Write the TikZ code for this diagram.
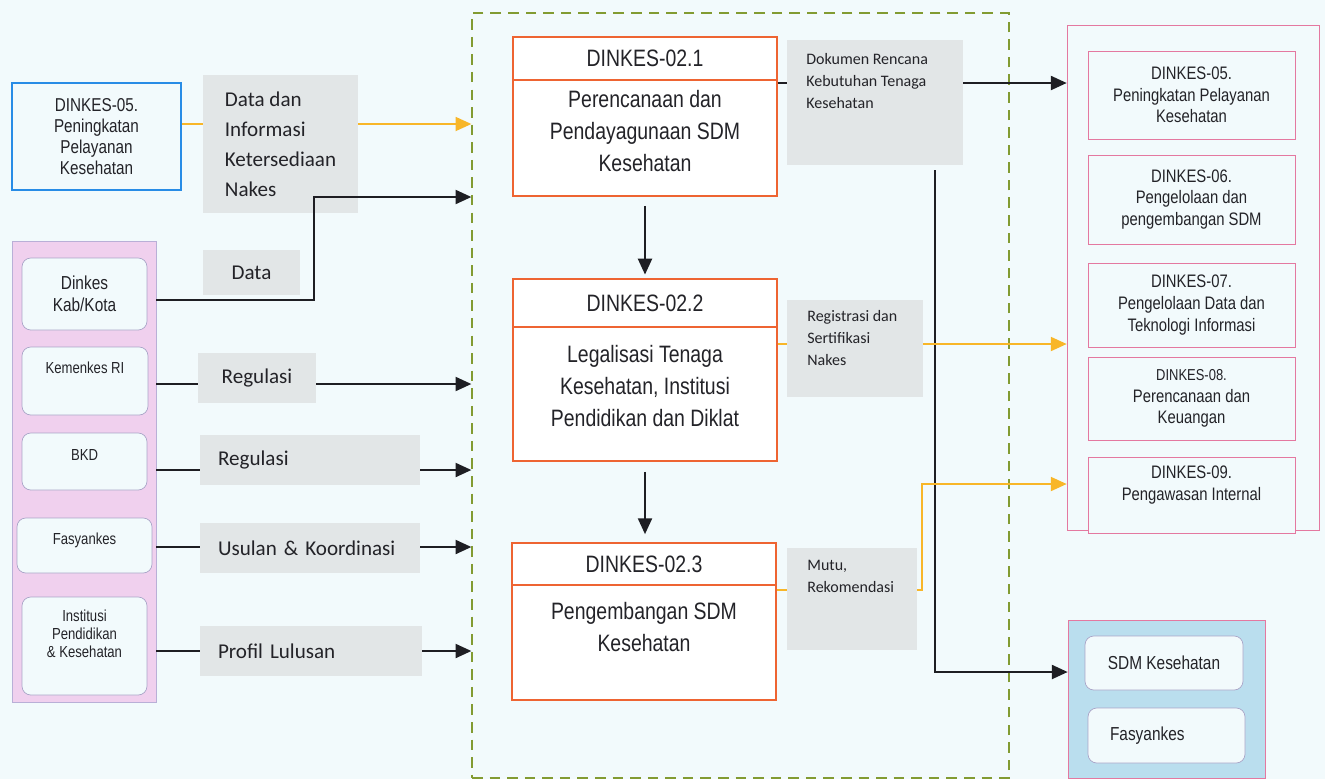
\documentclass[tikz,border=0pt]{standalone}
\usepackage{fontspec}
\usepackage{tikz}
\usepackage{xcolor}
\usetikzlibrary{arrows.meta}
\setmainfont{Liberation Sans}
\newfontfamily\narrowfont{Liberation Sans}[FakeStretch=0.82]
\newfontfamily\calfont{Carlito}

\definecolor{bgcol}{RGB}{242,250,252}
\definecolor{graycol}{RGB}{226,230,231}
\definecolor{txtcol}{RGB}{35,35,40}
\definecolor{linecol}{RGB}{30,30,35}
\definecolor{orangecol}{RGB}{238,100,50}
\definecolor{ambercol}{RGB}{248,182,40}
\definecolor{olivecol}{RGB}{130,155,50}
\definecolor{bluecol}{RGB}{40,140,230}
\definecolor{pinkfill}{RGB}{240,208,238}
\definecolor{panelline}{RGB}{185,175,215}
\definecolor{inline}{RGB}{170,165,200}
\definecolor{pinkline}{RGB}{228,120,160}
\definecolor{bluefill}{RGB}{186,222,238}

\begin{document}
\begin{tikzpicture}[x=0.02cm,y=-0.02cm,
    lbl/.style={fill=graycol,inner sep=0pt,text=txtcol,font=\calfont\fontsize{12}{17}\selectfont},
    smallcal/.style={inner sep=0pt,text=txtcol,align=left,font=\calfont\fontsize{9.1}{12.5}\selectfont},
    titlebox/.style={draw=orangecol,line width=1.1pt,fill=white,minimum width=5.28cm,text=txtcol,font=\narrowfont\fontsize{13.5}{18}\selectfont},
    bodybox/.style={draw=orangecol,line width=1.1pt,fill=white,minimum width=5.28cm},
    bodytxt/.style={align=center,text=txtcol,font=\narrowfont\fontsize{13.5}{18}\selectfont},
    inbox/.style={draw=inline,fill=bgcol,rounded corners=5pt,text=txtcol,align=center,font=\narrowfont\fontsize{9.1}{10.2}\selectfont},
    smalltxt/.style={text=txtcol,inner sep=0pt,font=\narrowfont\fontsize{9.1}{10.2}\selectfont},
    rbox/.style={draw=pinkline,fill=bgcol,minimum width=4.14cm,align=center,text=txtcol,font=\narrowfont\fontsize{10.3}{12.3}\selectfont},
    tbox/.style={draw=inline,fill=bgcol,rounded corners=5pt,text=txtcol,font=\narrowfont\fontsize{10.7}{12.5}\selectfont},
    line/.style={draw=linecol,line width=1.1pt},
    arr/.style={line,-{Triangle[length=9pt,width=8pt]}},
    yline/.style={draw=ambercol,line width=0.9pt},
    yarr/.style={yline,-{Triangle[length=9pt,width=8pt]}}]

    \useasboundingbox (0,0) rectangle (1325,779);
    \fill[bgcol] (0,0) rectangle (1325,779);

    % Line levels
    \coordinate (yinfo) at (0,124);
    \coordinate (ykab) at (0,300);
    \coordinate (dbend) at (314,197);
    \coordinate (ykem) at (0,384);
    \coordinate (ybkd) at (0,470);
    \coordinate (yfas) at (0,547);
    \coordinate (yinst) at (0,651);
    \coordinate (ydoc) at (0,83);
    \coordinate (yreg) at (0,344);
    \coordinate (ymut) at (0,590);
    \coordinate (y9) at (0,484);
    \coordinate (xm) at (922,0);
    \coordinate (v0) at (935,170);
    \coordinate (ysdm) at (0,672);

    % Input from DINKES-05
    \node[draw=bluecol,line width=1.1pt,fill=bgcol,minimum width=3.38cm,minimum height=2.14cm,align=center,text=txtcol,font=\narrowfont\fontsize{10.6}{11.9}\selectfont] (dk05in) at (96.5,136.5) {DINKES-05.\\Peningkatan\\Pelayanan\\Kesehatan};
    \node[lbl,minimum width=3.1cm,minimum height=2.76cm,align=left] (info) at (280.5,144) {Data dan\\Informasi\\Ketersediaan\\Nakes};

    % Sources
    \node[draw=panelline,fill=pinkfill,minimum width=2.88cm,minimum height=9.22cm] (srcpanel) at (84,471.5) {};
    \node[inbox,minimum width=2.5cm,minimum height=1.44cm,font=\narrowfont\fontsize{10.7}{12.5}\selectfont] (kab) at (84.5,294) {Dinkes\\Kab/Kota};
    \node[inbox,minimum width=2.52cm,minimum height=1.36cm] (kem) at (85,381) {};
    \node[smalltxt] (kem-t) at (85,368) {Kemenkes RI};
    \node[inbox,minimum width=2.5cm,minimum height=1.14cm] (bkd) at (84.5,461.5) {};
    \node[smalltxt] (bkd-t) at (84.5,455) {BKD};
    \node[inbox,minimum width=2.7cm,minimum height=1.1cm] (fas) at (84.5,545.5) {};
    \node[smalltxt] (fas-t) at (84.5,540) {Fasyankes};
    \node[inbox,minimum width=2.5cm,minimum height=1.96cm] (inst) at (84.5,646) {};
    \node[smalltxt,align=center] (inst-t) at (84.5,634) {Institusi\\Pendidikan\\\& Kesehatan};

    % Input labels
    \node[lbl,minimum width=1.94cm,minimum height=0.9cm] (data) at (251.5,272.5) {Data};
    \node[lbl,minimum width=2.36cm,minimum height=1cm] (reg1) at (257,378) {Regulasi};
    \node[lbl,text width=3.68cm,inner xsep=0.36cm,minimum height=1cm,align=left] (reg2) at (310,460) {Regulasi};
    \node[lbl,text width=3.68cm,inner xsep=0.36cm,minimum height=1cm,align=left] (usul) at (310,548) {Usulan \& Koordinasi};
    \node[lbl,text width=3.72cm,inner xsep=0.36cm,minimum height=1cm,align=left] (prof) at (311,651) {Profil Lulusan};

    % Process
    \node[draw=olivecol,line width=0.8pt,dash pattern=on 6pt off 4pt,minimum width=10.74cm,minimum height=15.3cm] (procbox) at (740.5,395.5) {};

    \node[bodybox,minimum height=2.32cm] (b1) at (645,138) {};
    \node[titlebox,minimum height=0.86cm] (b1t) at (645,58.5) {DINKES-02.1};
    \node[bodytxt] (b1-t) at (645,131) {Perencanaan dan\\Pendayagunaan SDM\\Kesehatan};

    \node[bodybox,minimum height=2.68cm] (b2) at (645,394) {};
    \node[titlebox,minimum height=0.96cm] (b2t) at (645,303) {DINKES-02.2};
    \node[bodytxt] (b2-t) at (645,386) {Legalisasi Tenaga\\Kesehatan, Institusi\\Pendidikan dan Diklat};

    \node[bodybox,minimum height=2.3cm] (b3) at (644,642.5) {};
    \node[titlebox,minimum height=0.84cm] (b3t) at (644,564) {DINKES-02.3};
    \node[bodytxt] (b3-t) at (644,627) {Pengembangan SDM\\Kesehatan};

    % Output labels
    \node[lbl,minimum width=3.52cm,minimum height=2.5cm] (doc) at (875,102.5) {};
    \node[smallcal,anchor=north west] (doc-t) at (806,53) {Dokumen Rencana\\Kebutuhan Tenaga\\Kesehatan};
    \node[lbl,minimum width=2.72cm,minimum height=1.94cm] (reg) at (855,348.5) {};
    \node[smallcal,anchor=north west] (reg-t) at (807,310) {Registrasi dan\\Sertifikasi\\Nakes};
    \node[lbl,minimum width=2.6cm,minimum height=2.04cm] (mutu) at (852,599) {};
    \node[smallcal,anchor=north west] (mutu-t) at (807,560) {Mutu,\\Rekomendasi};

    % Outputs
    \node[draw=pinkline,fill=bgcol,minimum width=5.04cm,minimum height=10.1cm] (outpanel) at (1193,277.5) {};
    \node[rbox,minimum height=1.76cm] (o5) at (1191.5,95) {DINKES-05.\\Peningkatan Pelayanan\\Kesehatan};
    \node[rbox,minimum height=1.78cm] (o6) at (1191.5,199.5) {DINKES-06.\\Pengelolaan dan\\pengembangan SDM};
    \node[rbox,minimum height=1.68cm] (o7) at (1191.5,305) {DINKES-07.\\Pengelolaan Data dan\\Teknologi Informasi};
    \node[rbox,minimum height=1.66cm] (o8) at (1191.5,398.5) {{\fontsize{9}{12}\selectfont DINKES-08.}\\Perencanaan dan\\Keuangan};
    \node[rbox,minimum height=1.52cm] (o9) at (1191.5,495) {};
    \node[bodytxt,inner sep=0pt,font=\narrowfont\fontsize{10.3}{12.3}\selectfont] (o9-t) at (1191.5,485) {DINKES-09.\\Pengawasan Internal};

    \node[draw=pinkline,fill=bluefill,minimum width=3.94cm,minimum height=3.16cm] (tgtpanel) at (1166.5,699) {};
    \node[tbox,minimum width=3.16cm,minimum height=1.08cm] (sdm) at (1164,663) {SDM Kesehatan};
    \node[tbox,text width=2.26cm,inner xsep=0.44cm,minimum height=1.1cm,align=left] (fasy) at (1166.5,735.5) {Fasyankes};

    % Inputs to process
    \draw[yline] (dk05in.east |- yinfo) -- (info.west |- yinfo);
    \draw[yarr] (info.east |- yinfo) -- (procbox.west |- yinfo);
    \draw[arr] (srcpanel.east |- ykab) -| (dbend) -- (procbox.west |- dbend);
    \draw[line] (srcpanel.east |- ykem) -- (reg1.west |- ykem);
    \draw[arr] (reg1.east |- ykem) -- (procbox.west |- ykem);
    \draw[line] (srcpanel.east |- ybkd) -- (reg2.west |- ybkd);
    \draw[arr] (reg2.east |- ybkd) -- (procbox.west |- ybkd);
    \draw[line] (srcpanel.east |- yfas) -- (usul.west |- yfas);
    \draw[arr] (usul.east |- yfas) -- (procbox.west |- yfas);
    \draw[line] (srcpanel.east |- yinst) -- (prof.west |- yinst);
    \draw[arr] (prof.east |- yinst) -- (procbox.west |- yinst);

    % Inside process
    \draw[arr,shorten <=5pt,shorten >=2pt] (b1.south) -- (b2t.north);
    \draw[arr,shorten <=5.7pt,shorten >=4.5pt] (b2.south) -- (b2.south |- b3t.north);

    % Process to outputs
    \draw[line] (b1.east |- ydoc) -- (doc.west |- ydoc);
    \draw[arr] (doc.east |- ydoc) -- (outpanel.west |- ydoc);
    \draw[arr] (v0) |- (tgtpanel.west |- ysdm);
    \draw[yline] (b2.east |- yreg) -- (reg.west |- yreg);
    \draw[yarr] (reg.east |- yreg) -- (outpanel.west |- yreg);
    \draw[yline] (b3.east |- ymut) -- (mutu.west |- ymut);
    \draw[yarr] (mutu.east |- ymut) -| (xm |- y9) -- (outpanel.west |- y9);
\end{tikzpicture}
\end{document}
